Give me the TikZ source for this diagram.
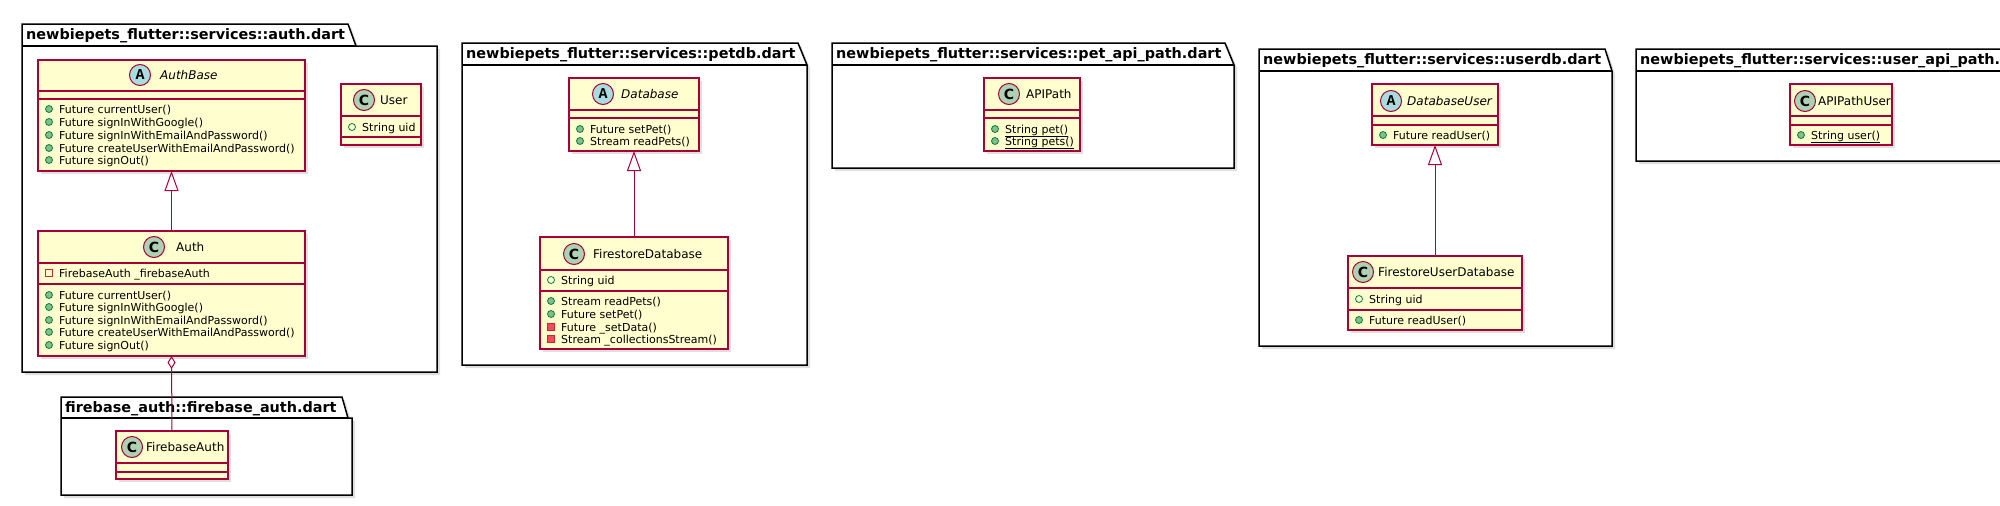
\documentclass[tikz,border=0pt]{standalone}
\usepackage{fontspec}
\setmainfont{DejaVu Sans}
\newfontfamily\badgemono{Liberation Mono}
\usetikzlibrary{arrows.meta,shadows}

\definecolor{classfill}{HTML}{FEFECE}
\definecolor{classborder}{HTML}{A80036}
\definecolor{cbadge}{HTML}{ADD1B2}
\definecolor{abadge}{HTML}{A9DCDF}
\definecolor{pubdraw}{HTML}{038048}
\definecolor{pubfill}{HTML}{84BE84}
\definecolor{privdraw}{HTML}{C82930}
\definecolor{privfill}{HTML}{F24D5C}

\begin{document}
\begin{tikzpicture}
[x=1pt, y=-1pt,
  pkgDecorate/.style={draw=black, line width=1.5pt, fill=white,
    drop shadow={shadow xshift=3pt, shadow yshift=-3pt, opacity=0.25}},%
  pkgTitle/.style={anchor=base west, inner sep=0pt, font=\fontsize{14.4}{16}\selectfont\bfseries},%
  classDecorate/.style={draw=classborder, fill=classfill, line width=1.5pt, anchor=north west,
    inner sep=0pt, outer sep=0pt, drop shadow={shadow xshift=3pt, shadow yshift=-3pt, opacity=0.25}},%
  sepDecorate/.style={draw=classborder, line width=1.5pt},%
  badgeDecorate/.style={circle, draw=classborder, line width=1pt, minimum size=21pt, inner sep=0pt},%
  cBadge/.style={badgeDecorate, fill=cbadge, font=\fontsize{14}{14}\selectfont\bfseries},%
  aBadge/.style={badgeDecorate, fill=abadge, font=\fontsize{15}{15}\selectfont\badgemono\bfseries},%
  className/.style={anchor=base west, inner sep=0pt, font=\fontsize{12}{14}\selectfont},%
  abstractName/.style={className, font=\fontsize{12}{14}\selectfont\itshape},%
  memberDecorate/.style={anchor=base west, inner sep=0pt, font=\fontsize{11}{13}\selectfont},%
  pubmeth/.style={circle, draw=pubdraw, fill=pubfill, line width=0.8pt, minimum size=7pt, inner sep=0pt},%
  pubfield/.style={pubmeth, fill=none},%
  privfield/.style={rectangle, draw=privdraw, line width=0.8pt, minimum size=7pt, inner sep=0pt},%
  privmeth/.style={privfield, fill=privfill},%
  extendsDecorate/.style={draw=classborder, line width=1pt, -{Triangle[width=14pt,length=20pt,fill=white]}},%
  aggDecorate/.style={draw=classborder, line width=1pt, {Diamond[width=8pt,length=13pt,fill=white]}-}]
\clip (0,0) rectangle (2000,506);
%% packages
\foreach \nm/\xa/\ta/\tb/\tr/\ts/\xb/\yb/\title in {
  pkgauth/22/24/46/348/356/437/372/newbiepets\_flutter::services::auth.dart,
  pkgfirebase/61/397/418/342/348/352/495/firebase\_auth::firebase\_auth.dart,
  pkgpetdb/462/43/65/798/807/807/365/newbiepets\_flutter::services::petdb.dart,
  pkgpetapi/832/43/65/1225/1234/1234/168/newbiepets\_flutter::services::pet\_api\_path.dart,
  pkguserdb/1259/49/71/1605/1612/1612/346/newbiepets\_flutter::services::userdb.dart,
  pkguserapi/1636/49/71/2090/2098/2120/161/newbiepets\_flutter::services::user\_api\_path.dart}
{
  \path[pkgDecorate] (\xa,\ta) -- (\tr,\ta) -- (\ts,\tb) -- (\xb,\tb) -- (\xb,\yb) -- (\xa,\yb) -- cycle;
  \draw[line width=1.5pt] (\xa,\tb) -- (\ts,\tb);
  \node[pkgTitle] (\nm) at (\xa+4,\ta+15) {\title};
}
%% class boxes
\foreach \nm/\xa/\ya/\xb/\yb/\sa/\sb in {
  authbase/38/60/305/171/91/99, user/341/84/421/145/116/137,
  auth/38/231/305/356/263/284, firebaseauth/116/431/228/479/463/472,
  database/569/78/699/151/110/118, firestoredb/540/237/728/349/270/291,
  apipath/984/78/1080/151/110/118, databaseuser/1372/84/1498/145/116/125,
  firestoreuserdb/1348/256/1522/330/288/310, apipathuser/1790/84/1892/145/116/125}
{
  \node[classDecorate, minimum width={(\xb-\xa)*1pt}, minimum height={(\yb-\ya)*1pt}] (\nm) at (\xa,\ya) {};
  \draw[sepDecorate] (\xa,\sa) -- (\xb,\sa);
  \draw[sepDecorate] (\xa,\sb) -- (\xb,\sb);
}
%% class headers
\foreach \nm/\cx/\cy/\tx/\bstyle/\letter/\nstyle/\cname in {
  authbase/140/75/160/aBadge/A/abstractName/AuthBase,
  user/364/100/380/cBadge/C/className/User,
  auth/154/247/176/cBadge/C/className/Auth,
  firebaseauth/132/447/146/cBadge/C/className/FirebaseAuth,
  database/603/94/621/aBadge/A/abstractName/Database,
  firestoredb/574/254/593/cBadge/C/className/FirestoreDatabase,
  apipath/1009/94/1026/cBadge/C/className/APIPath,
  databaseuser/1391/101/1407/aBadge/A/abstractName/DatabaseUser,
  firestoreuserdb/1363/272/1378/cBadge/C/className/FirestoreUserDatabase,
  apipathuser/1805/101/1818/cBadge/C/className/APIPathUser}
{
  \node[\bstyle] (\nm-badge) at (\cx,\cy) {\letter};
  \node[\nstyle] (\nm-name) at (\tx,\cy+4.5) {\cname};
}
%% members
\foreach \nm/\x/\y/\kind/\txt in {
  ab1/38/109/pubmeth/Future currentUser(), ab2/38/122/pubmeth/Future signInWithGoogle(),
  ab3/38/135/pubmeth/Future signInWithEmailAndPassword(),
  ab4/38/148/pubmeth/Future createUserWithEmailAndPassword(), ab5/38/160/pubmeth/Future signOut(),
  us1/341/127/pubfield/String uid,
  au0/38/273/privfield/FirebaseAuth \_firebaseAuth,
  au1/38/295/pubmeth/Future currentUser(), au2/38/307/pubmeth/Future signInWithGoogle(),
  au3/38/320/pubmeth/Future signInWithEmailAndPassword(),
  au4/38/332/pubmeth/Future createUserWithEmailAndPassword(), au5/38/345/pubmeth/Future signOut(),
  db1/569/129/pubmeth/Future setPet(), db2/569/141/pubmeth/Stream readPets(),
  fd0/540/280/pubfield/String uid,
  fd1/540/301/pubmeth/Stream readPets(), fd2/540/314/pubmeth/Future setPet(),
  fd3/540/327/privmeth/Future \_setData(), fd4/540/339/privmeth/Stream \_collectionsStream(),
  ap1/984/129/pubmeth/\underline{String pet()}, ap2/984/141/pubmeth/\underline{String pets()},
  du1/1372/135/pubmeth/Future readUser(),
  fu0/1348/299/pubfield/String uid, fu1/1348/320/pubmeth/Future readUser(),
  au9/1790/135/pubmeth/\underline{String user()}}
{
  \node[\kind] (\nm-icon) at (\x+11,\y) {};
  \node[memberDecorate] (\nm) at (\x+21,\y+4) {\txt};
}
%% relations
\draw[extendsDecorate] (auth.north) -- (authbase.south);
\draw[extendsDecorate] (firestoredb.north) -- (database.south);
\draw[extendsDecorate] (firestoreuserdb.north) -- (databaseuser.south);
\draw[aggDecorate] (auth.south) -- (firebaseauth.north);
\end{tikzpicture}
\end{document}
